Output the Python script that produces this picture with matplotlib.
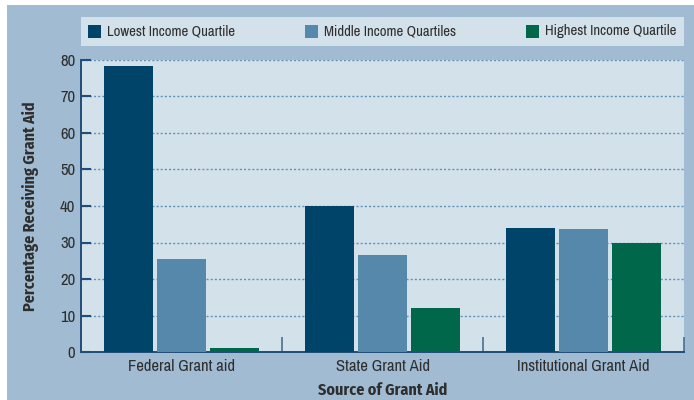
import matplotlib
matplotlib.use("Agg")
import matplotlib.pyplot as plt
import matplotlib.patches as mpatches
import numpy as np

# ── data ──────────────────────────────────────────────
sources = ["Federal Grant aid", "State Grant Aid", "Institutional Grant Aid"]
series_names = ["Lowest Income Quartile", "Middle Income Quartiles", "Highest Income Quartile"]
lowest = [78.3, 40.0, 34.0]
middle = [25.5, 26.6, 33.7]
highest = [1.1, 12.1, 29.9]

# ── style ─────────────────────────────────────────────
COLORS = ["#00446A", "#5588AA", "#00674B"]
PANEL = "#A0BBD2"
PLOT_BG = "#D3E1EB"
AXIS = "#1F4E79"
GRID = "#5E92B8"
TXT = "#2E2E2E"
FONT = ["Archivo Narrow", "Liberation Sans Narrow", "DejaVu Sans"]
FONT_BOLD = ["Fira Sans Condensed", "Barlow Condensed", "DejaVu Sans"]
plt.rcParams["font.family"] = FONT

W, H = 694, 400
fig = plt.figure(figsize=(W / 100, H / 100), dpi=100)
fig.patch.set_facecolor("white")


def fx(px):
    return px / W


def fy(py):
    return 1 - py / H


# blue panel behind everything
fig.add_artist(mpatches.Rectangle((fx(7), 0), 1 - fx(7), fy(5), transform=fig.transFigure,
                                  facecolor=PANEL, edgecolor="none", zorder=0))

ax = fig.add_axes([fx(81), fy(352), fx(684) - fx(81), fy(60) - fy(352)])
ax.set_facecolor(PLOT_BG)

x = np.arange(len(sources))
bw = 0.244
step = 0.266
for i, (vals, c) in enumerate(zip([lowest, middle, highest], COLORS)):
    ax.bar(x + (i - 1) * step, vals, width=bw, color=c, zorder=3, label=series_names[i])

ax.set_xlim(-0.5, len(sources) - 0.5)
ax.set_ylim(0, 80)
ax.set_yticks(range(0, 81, 10))
ax.yaxis.grid(True, linestyle=(0, (1.5, 1.5)), color=GRID, linewidth=1.0, zorder=1)
ax.set_axisbelow(True)

for s in ["top", "right"]:
    ax.spines[s].set_visible(False)
for s in ["left", "bottom"]:
    ax.spines[s].set_color(AXIS)
    ax.spines[s].set_linewidth(1.4)

ax.tick_params(axis="y", direction="in", length=7, width=1.5, color=AXIS,
               labelsize=12, labelcolor=TXT, pad=4)

# category labels under the groups, separators at group edges
ax.set_xticks(x)
ax.set_xticklabels(sources, fontsize=12, color=TXT)
ax.tick_params(axis="x", which="major", length=0, pad=5)
ax.set_xticks(np.arange(0.5, len(sources), 1.0), minor=True)
ax.tick_params(axis="x", which="minor", direction="in", length=11, width=1.2, color="#4A6F8F")

ax.set_xlabel("Source of Grant Aid", family=FONT_BOLD, fontsize=11.5, fontweight="bold",
              color=TXT, labelpad=6)
ax.set_ylabel("Percentage Receiving Grant Aid", family=FONT_BOLD, fontsize=11.5,
              fontweight="bold", color=TXT, labelpad=15)

# legend strip
fig.add_artist(mpatches.Rectangle((fx(81), fy(46)), fx(684) - fx(81), fy(17) - fy(46),
                                  transform=fig.transFigure, facecolor=PLOT_BG,
                                  edgecolor="none", zorder=1))
for name, c, left in zip(series_names, COLORS, [88, 305, 526]):
    fig.add_artist(mpatches.Rectangle((fx(left), fy(38)), fx(13), fy(25) - fy(38),
                                      transform=fig.transFigure, facecolor=c,
                                      edgecolor="none", zorder=2))
    fig.text(fx(left + 19), fy(31.5), name, ha="left", va="center", fontsize=10.6,
             color=TXT, zorder=3)

fig.savefig("out.png", dpi=100, facecolor="white")
